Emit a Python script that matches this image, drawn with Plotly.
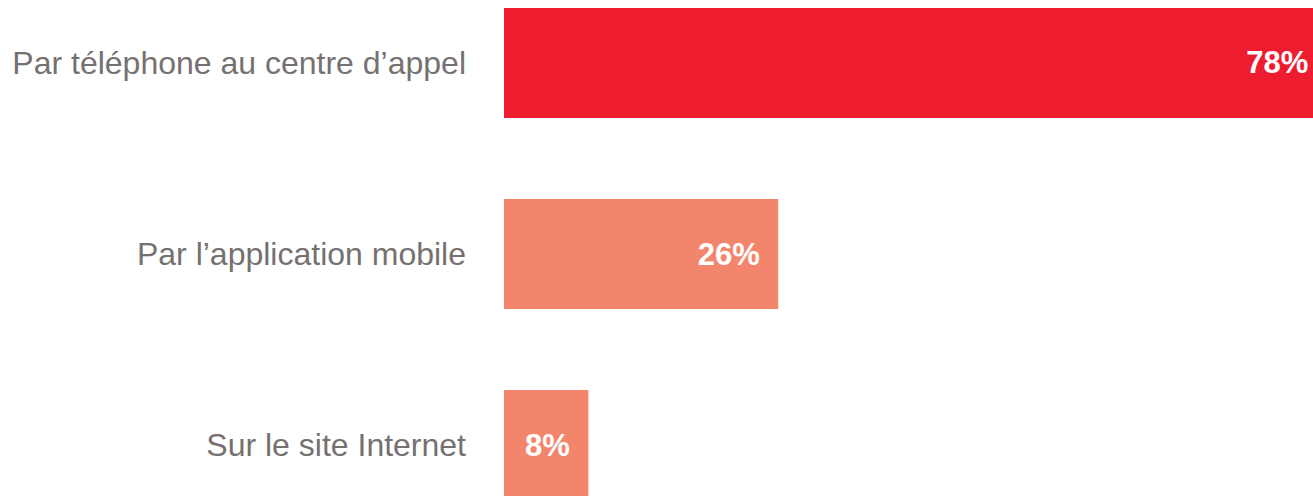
import plotly.graph_objects as go

categories = ["Par téléphone au centre d’appel", "Par l’application mobile", "Sur le site Internet"]
values = [78, 26, 8]
labels = ["78%", "26%", "8%"]
colors = ["#EE1C2F", "#F4856D", "#F4856D"]

fig = go.Figure(go.Bar(
    x=values,
    y=categories,
    orientation="h",
    width=0.576,
    marker=dict(color=colors, line=dict(width=0)),
    text=[t + "\u2002" for t in labels],
    textposition="inside",
    insidetextanchor="end",
    textangle=0,
    constraintext="none",
    textfont=dict(family="Liberation Sans, Arial, sans-serif", size=31, color="white", weight="bold"),
    cliponaxis=True,
    hoverinfo="skip",
))

fig.update_layout(
    width=1313, height=496,
    margin=dict(l=504, r=0, t=0, b=0),
    plot_bgcolor="white", paper_bgcolor="white",
    showlegend=False,
    xaxis=dict(range=[0, 76.7], visible=False, fixedrange=True),
    yaxis=dict(
        type="category",
        categoryorder="array", categoryarray=categories,
        range=[2.267, -0.3298],
        showgrid=False, zeroline=False, showline=False, ticks="",
        ticklabelstandoff=37,
        tickfont=dict(family="Liberation Sans, Arial, sans-serif", size=32, color="#767171"),
        automargin=False,
    ),
)

fig.write_html("out.html")
